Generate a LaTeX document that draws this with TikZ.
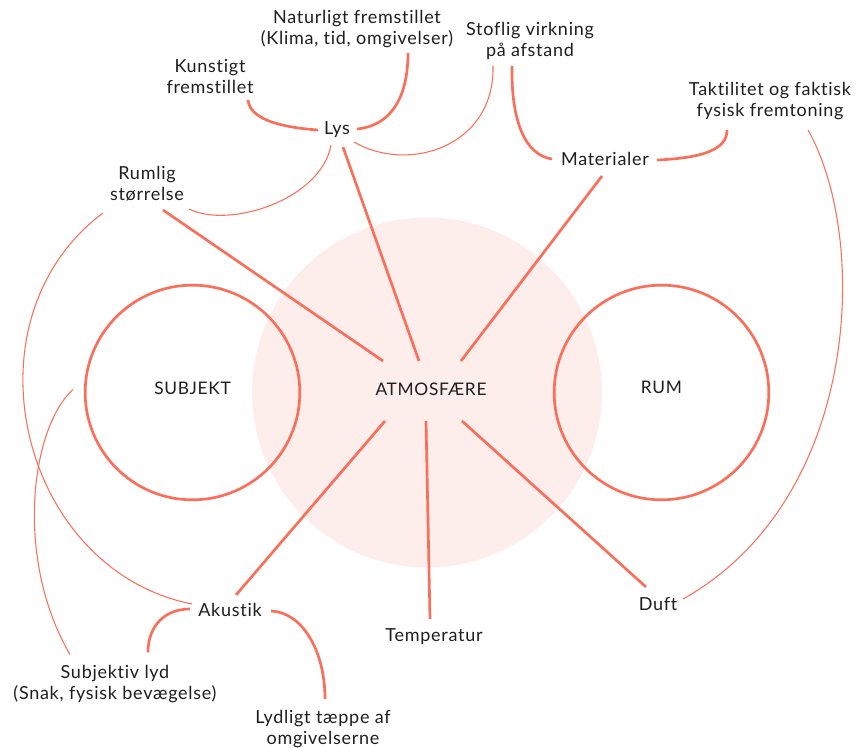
\documentclass[tikz,border=0pt]{standalone}
\usepackage{fontspec}
\setmainfont{Lato}[LetterSpace=4, Ligatures={NoCommon}]
\definecolor{coral}{RGB}{250,110,90}
\definecolor{blush}{RGB}{253,238,235}
\definecolor{ink}{RGB}{30,30,30}
\begin{document}
\begin{tikzpicture}[x=0.75pt,y=-0.75pt,
  lbl/.style={font=\fontsize{13.5}{15.75}\selectfont, text=ink, align=center, inner sep=0pt},
  hub/.style={font=\fontsize{13}{15}\selectfont, text=ink, inner sep=0pt},
  ring/.style={circle, draw=coral, line width=2pt, minimum size=161pt, inner sep=0pt},
  halo/.style={circle, fill=blush, minimum size=262.5pt, inner sep=0pt},
  spoke/.style={draw=coral, line width=2pt},
  strong/.style={draw=coral, line width=2pt},
  faint/.style={draw=coral, line width=0.8pt},
]
\useasboundingbox (0,0) rectangle (865,748);

% central field and the two poles
\node[halo] (field) at (427,392.5) {};
\node[ring] (subj) at (192.5,392.5) {};
\node[ring] (room) at (661.5,392.5) {};
\node[hub] (atm) at (431,389) {ATMOSFÆRE};
\node[hub] at (subj.center) [yshift=3pt] {SUBJEKT};
\node[hub] at (room.center) [yshift=4pt] {RUM};

% labels
\node[lbl] (nat) at (357,29) {Naturligt fremstillet\\(Klima, tid, omgivelser)};
\node[lbl] (kun) at (210,77) {Kunstigt\\fremstillet};
\node[lbl] (sto) at (530,41) {Stoflig virkning\\på afstand};
\node[lbl] (lys) at (337,130) {Lys};
\node[lbl] (mat) at (605,159) {Materialer};
\node[lbl] (tak) at (770,101) {Taktilitet og faktisk\\fysisk fremtoning};
\node[lbl] (rumlig) at (147,184) {Rumlig\\størrelse};
\node[lbl] (aku) at (230,610) {Akustik};
\node[lbl] (sub) at (115,684.5) {Subjektiv lyd\\(Snak, fysisk bevægelse)};
\node[lbl] (lyd) at (323,729) {Lydligt tæppe af\\omgivelserne};
\node[lbl] (temp) at (434,637) {Temperatur};
\node[lbl] (duft) at (658,604) {Duft};

% spokes from the centre
\draw[spoke] ([shift={(-48,-28)}]atm.center) -- ([shift={(16,26)}]rumlig.center);
\draw[spoke] ([shift={(-12,-28)}]atm.center) -- ([shift={(6,17)}]lys.center);
\draw[spoke] ([shift={(30,-28)}]atm.center) -- ([shift={(-3,17)}]mat.center);
\draw[spoke] ([shift={(-46,32)}]atm.center) -- ([shift={(6,-15)}]aku.center);
\draw[spoke] ([shift={(-5,32)}]atm.center) -- ([shift={(-4,-18)}]temp.center);
\draw[spoke] ([shift={(31,32)}]atm.center) -- ([shift={(-12,-17)}]duft.center);

% strong branches
\draw[strong] ([shift={(38,23)}]kun.center) .. controls +(2,22) and +(-28,-2) .. ([shift={(-19,0)}]lys.center);
\draw[strong] ([shift={(51,24)}]nat.center) .. controls +(0,47) and +(32,-3) .. ([shift={(20,-1)}]lys.center);
\draw[strong] ([shift={(-18,25)}]sto.center) .. controls +(-1,55) and +(-27,-4) .. ([shift={(-53,0)}]mat.center);
\draw[strong] ([shift={(52,1)}]mat.center) .. controls +(45,-2) and +(0,20) .. ([shift={(-43,29)}]tak.center);
\draw[strong] ([shift={(-40,-1)}]aku.center) .. controls +(-25,0) and +(0,-27) .. ([shift={(33,-32)}]sub.center);
\draw[strong] ([shift={(41,1)}]aku.center) .. controls +(30,1) and +(0,-50) .. ([shift={(2,-30)}]lyd.center);

% faint branches
\draw[faint] ([shift={(17,12)}]lys.center) .. controls +(55,32) and +(2,80) .. ([shift={(-37,25)}]sto.center);
\draw[faint] ([shift={(-6,15)}]lys.center) .. controls +(-10,55) and +(40,20) .. ([shift={(42,25)}]rumlig.center);
\draw[faint] ([shift={(-44,29)}]rumlig.center) .. controls +(-143,107) and +(-172,-34) .. ([shift={(-38,-6)}]aku.center);
\draw[faint] ([shift={(-11,-3)}]subj.west) .. controls +(-43,40) and +(-55,-94) .. ([shift={(-45,-30)}]sub.center);
\draw[faint] ([shift={(38,29)}]tak.center) .. controls +(62,110) and +(177,-99) .. ([shift={(25,-5)}]duft.center);
\end{tikzpicture}
\end{document}
